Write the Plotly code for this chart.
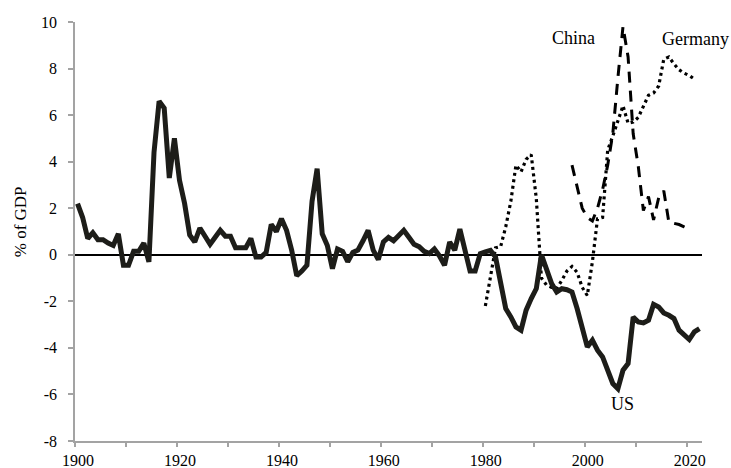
import plotly.graph_objects as go

# ---------------- data ----------------
us_years = list(range(1900, 2023))
us_values = [
    2.2, 1.6, 0.7, 0.95, 0.65, 0.65, 0.5, 0.4, 0.9, -0.45,      # 1900-1909
    -0.45, 0.15, 0.15, 0.5, -0.3, 4.4, 6.6, 6.3, 3.3, 5.0,       # 1910-1919
    3.2, 2.2, 0.85, 0.55, 1.15, 0.75, 0.45, 0.75, 1.05, 0.8,     # 1920-1929
    0.8, 0.3, 0.3, 0.3, 0.7, -0.1, -0.1, 0.1, 1.3, 1.0,          # 1930-1939
    1.55, 1.05, 0.2, -0.9, -0.7, -0.45, 2.3, 3.7, 0.9, 0.4,      # 1940-1949
    -0.6, 0.25, 0.15, -0.3, 0.1, 0.2, 0.6, 1.05, 0.2, -0.2,      # 1950-1959
    0.55, 0.75, 0.6, 0.8, 1.05, 0.75, 0.45, 0.35, 0.15, 0.05,    # 1960-1969
    0.25, -0.05, -0.45, 0.55, 0.2, 1.1, 0.3, -0.7, -0.7, 0.05,   # 1970-1979
    0.12, 0.19, -0.1, -1.24, -2.31, -2.67, -3.1, -3.24, -2.38, -1.88,  # 1980-1989
    -1.45, 0.0, -0.67, -1.24, -1.6, -1.46, -1.5, -1.6, -2.31, -3.1,    # 1990-1999
    -3.96, -3.67, -4.1, -4.39, -4.96, -5.53, -5.75, -4.96, -4.67, -2.67,  # 2000-2009
    -2.89, -2.93, -2.81, -2.13, -2.24, -2.5, -2.6, -2.74, -3.24, -3.46,  # 2010-2019
    -3.64, -3.31, -3.17,                                                # 2020-2022
]

germany_years = list(range(1980, 2022))
germany_values = [
    -2.2, -1.0, 0.3, 0.35, 1.2, 2.3, 3.85, 3.56, 4.1, 4.3,        # 1980-1989
    2.4, -1.0, -1.3, -1.4, -1.45, -1.1, -0.7, -0.5, -0.75, -1.4,  # 1990-1999
    -1.75, -0.3, 1.55, 1.6, 4.5, 5.1, 5.8, 6.4, 5.65, 5.7,        # 2000-2009
    5.9, 6.35, 6.85, 6.95, 7.25, 8.4, 8.5, 8.2, 7.95, 7.8,        # 2010-2019
    7.7, 7.55,                                                    # 2020-2021
]

china_years = list(range(1997, 2021))
china_values = [
    3.85, 2.85, 2.0,                                              # 1997-1999
    1.6, 1.45, 2.0, 2.8, 3.85, 5.2, 7.6, 9.8, 8.5, 5.2,           # 2000-2009
    3.8, 1.9, 2.5, 1.5, 2.45, 2.75, 1.4, 1.35, 1.3, 1.2,          # 2010-2019
    1.1,                                                          # 2020
]

x_tick_years = [1900, 1910, 1920, 1930, 1940, 1950, 1960, 1970, 1980, 1990, 2000, 2010, 2020]
x_tick_labels = ["1900", "", "1920", "", "1940", "", "1960", "", "1980", "", "2000", "", "2020"]
y_tick_values = [-8, -6, -4, -2, 0, 2, 4, 6, 8, 10]
y_tick_labels = ["-8", "-6", "-4", "-2", "0", "2", "4", "6", "8", "10"]

series_labels = {"China": (1997.3, 9.3), "Germany": (2021.3, 9.25), "US": (2006.9, -6.42)}

# ---------------- figure ----------------
FONT = "Liberation Serif, Times New Roman, serif"
AXIS_GRAY = "#a3a3a3"
INK = "#1d1d19"

fig = go.Figure()
fig.add_trace(go.Scatter(
    x=germany_years, y=germany_values, mode="lines", name="Germany",
    line=dict(color="#000000", width=3.2, dash="3px,3.5px"), showlegend=False,
))
fig.add_trace(go.Scatter(
    x=china_years, y=china_values, mode="lines", name="China",
    line=dict(color="#000000", width=3, dash="11px,8px"), showlegend=False,
))
fig.add_trace(go.Scatter(
    x=us_years, y=us_values, mode="lines", name="US",
    line=dict(color=INK, width=5), showlegend=False,
))

for text, (xv, yv) in series_labels.items():
    fig.add_annotation(x=xv, y=yv, text=text, showarrow=False,
                       xanchor="center", yanchor="middle",
                       font=dict(family=FONT, size=18, color="#000000"))

fig.add_annotation(xref="paper", yref="paper", x=-55 / 627, y=0.522,
                   xanchor="center", yanchor="middle",
                   text="% of GDP", textangle=-90, showarrow=False,
                   font=dict(family=FONT, size=17, color="#000000"))

fig.update_layout(
    width=731, height=468,
    margin=dict(l=75, r=29, t=22, b=27),
    paper_bgcolor="white", plot_bgcolor="white",
    font=dict(family=FONT, size=16, color="#000000"),
    xaxis=dict(
        range=[1899.5, 2022.5], automargin=False,
        tickvals=[y - 0.5 for y in x_tick_years], ticktext=x_tick_labels,
        ticklabelshift=3, ticklabelstandoff=0,
        ticks="outside", ticklen=4, tickwidth=1.5, tickcolor=AXIS_GRAY,
        showline=True, linecolor=AXIS_GRAY, linewidth=1.5,
        showgrid=False, zeroline=False,
        tickfont=dict(family=FONT, size=16, color="#000000"),
    ),
    yaxis=dict(
        range=[-8, 10], automargin=False,
        tickvals=y_tick_values, ticktext=y_tick_labels,
        ticks="outside", ticklen=5, tickwidth=1.5, tickcolor=AXIS_GRAY,
        showline=True, linecolor=AXIS_GRAY, linewidth=1.5,
        showgrid=False, zeroline=True, zerolinecolor="#000000", zerolinewidth=1.5,
        ticklabelstandoff=8,
        tickfont=dict(family=FONT, size=16, color="#000000"),
    ),
)

# remove the browser's default page margin so the figure fills the window exactly
fig.write_html(
    "out.html",
    config={"displayModeBar": False},
    post_script="document.body.style.margin='0';document.body.style.overflow='hidden';",
)
